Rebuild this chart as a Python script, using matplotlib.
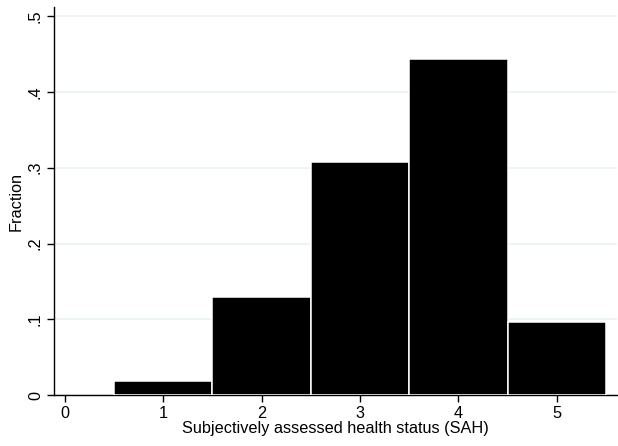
import matplotlib
matplotlib.use("Agg")
import matplotlib.pyplot as plt

# SAH categories and the share of respondents in each
sah_levels = [1, 2, 3, 4, 5]
fractions = [0.019, 0.129, 0.307, 0.443, 0.096]

x_ticks = [0, 1, 2, 3, 4, 5]
y_ticks = [0, 0.1, 0.2, 0.3, 0.4, 0.5]
y_tick_labels = ["0", ".1", ".2", ".3", ".4", ".5"]

plt.rcParams["font.family"] = ["Liberation Sans", "DejaVu Sans"]

fig = plt.figure(figsize=(6.18, 4.46), dpi=100)
ax = fig.add_axes([0.0874, 0.1143, 0.9106, 0.8697])

ax.bar(sah_levels, fractions, width=1.0, color="black", edgecolor="white",
       linewidth=1.1, zorder=3)

ax.set_xlim(-0.11, 5.61)
ax.set_ylim(0, 0.512)
ax.set_xticks(x_ticks)
ax.set_yticks(y_ticks)
ax.set_yticklabels(y_tick_labels, rotation=90, va="center")
ax.yaxis.grid(True, color="#eaf2f3", linewidth=1.2, zorder=0)
ax.set_axisbelow(True)

for side in ["top", "right"]:
    ax.spines[side].set_visible(False)
ax.spines["left"].set_linewidth(1.0)
ax.spines["bottom"].set_linewidth(1.0)
ax.tick_params(direction="out", length=5, width=1.0, labelsize=11.7, pad=3)

ax.set_xlabel("Subjectively assessed health status (SAH)", fontsize=11.7, labelpad=0)
ax.set_ylabel("Fraction", fontsize=11.7, labelpad=3)

fig.savefig("out.png", dpi=100)
